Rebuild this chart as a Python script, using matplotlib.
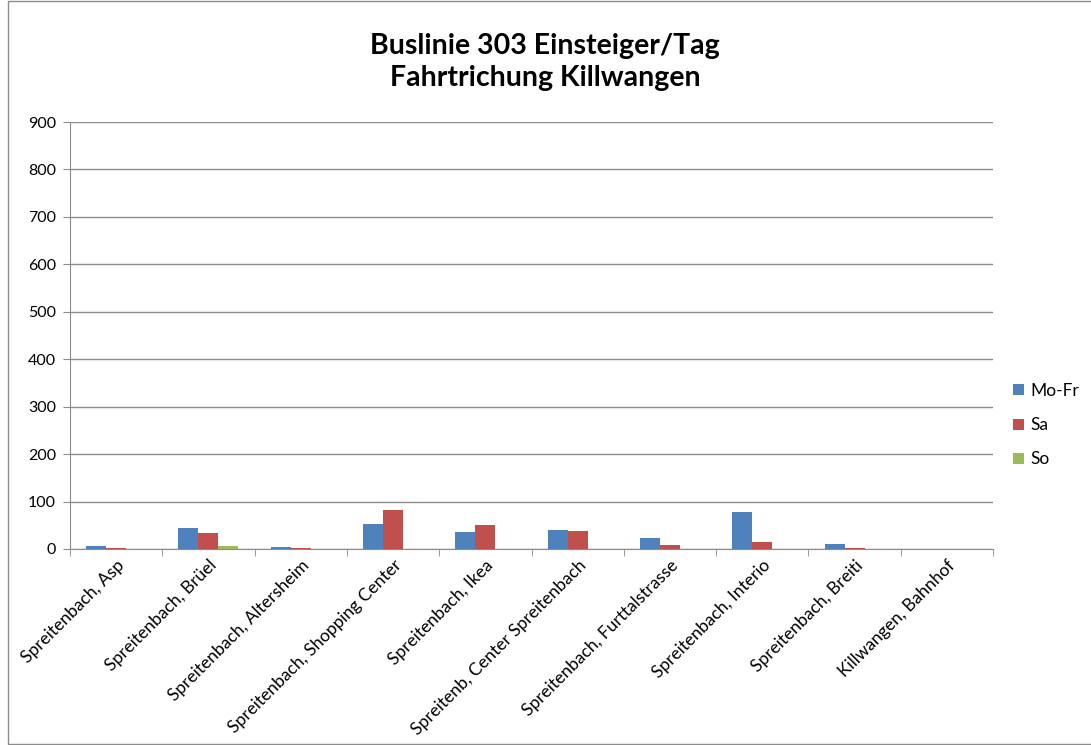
import numpy as np
import matplotlib.pyplot as plt
from matplotlib.patches import Rectangle

stops = ['Spreitenbach, Asp', 'Spreitenbach, Brüel', 'Spreitenbach, Altersheim',
         'Spreitenbach, Shopping Center', 'Spreitenbach, Ikea',
         'Spreitenb, Center Spreitenbach', 'Spreitenbach, Furttalstrasse',
         'Spreitenbach, Interio', 'Spreitenbach, Breiti', 'Killwangen, Bahnhof']
mo_fr = [6, 44, 4, 53, 36, 39, 24, 77, 10, 0]
sa = [2, 34, 2, 83, 50, 37, 8, 15, 2, 0]
so = [0, 6, 0, 0, 0, 0, 0, 0, 0, 0]
series_names = ['Mo-Fr', 'Sa', 'So']
colors = ['#4F81BD', '#C0504D', '#9BBB59']

plt.rcParams['font.family'] = ['Lato', 'DejaVu Sans']

W, H = 1091, 745
fig = plt.figure(figsize=(W / 100, H / 100), dpi=100)
ax = fig.add_axes([70 / W, 1 - 549 / H, 923 / W, 427 / H])

x = np.arange(len(stops))
bw = 0.217
for i, (vals, name, c) in enumerate(zip([mo_fr, sa, so], series_names, colors)):
    ax.bar(x + (i - 1) * bw, vals, width=bw, color=c, label=name, zorder=3)

ax.set_xlim(-0.5, len(stops) - 0.5)
ax.set_ylim(0, 900)
ax.set_yticks(range(0, 901, 100))
ax.yaxis.grid(True, color='#8c8c8c', linewidth=1, zorder=0)
for s in ['top', 'right']:
    ax.spines[s].set_visible(False)
for s in ['left', 'bottom']:
    ax.spines[s].set_color('#8c8c8c')
ax.tick_params(axis='y', length=5, color='#8c8c8c', labelsize=11.5, pad=5)

ax.set_xticks(x)
ax.set_xticklabels(stops, rotation=45, ha='right', rotation_mode='anchor', fontsize=12.5)
ax.tick_params(axis='x', length=0, pad=6)
ax.set_xticks(np.arange(-0.5, len(stops), 1), minor=True)
ax.tick_params(axis='x', which='minor', length=5, color='#8c8c8c')

fig.text(545 / W, 1 - 62 / H, 'Buslinie 303 Einsteiger/Tag\nFahrtrichung Killwangen',
         ha='center', va='center', fontsize=20.5, fontweight='bold', linespacing=1.32)

ax.legend(loc='center left', bbox_to_anchor=(1.005, 0.29), frameon=False,
          fontsize=12.5, handlelength=0.6, handleheight=0.6, labelspacing=1.05,
          handletextpad=0.4)

fig.patches.append(Rectangle((8 / W, 1 / H), 1.2, 1 - 2 / H, transform=fig.transFigure,
                             fill=False, edgecolor='#8c8c8c', linewidth=1))

fig.savefig('out.png', dpi=100)
